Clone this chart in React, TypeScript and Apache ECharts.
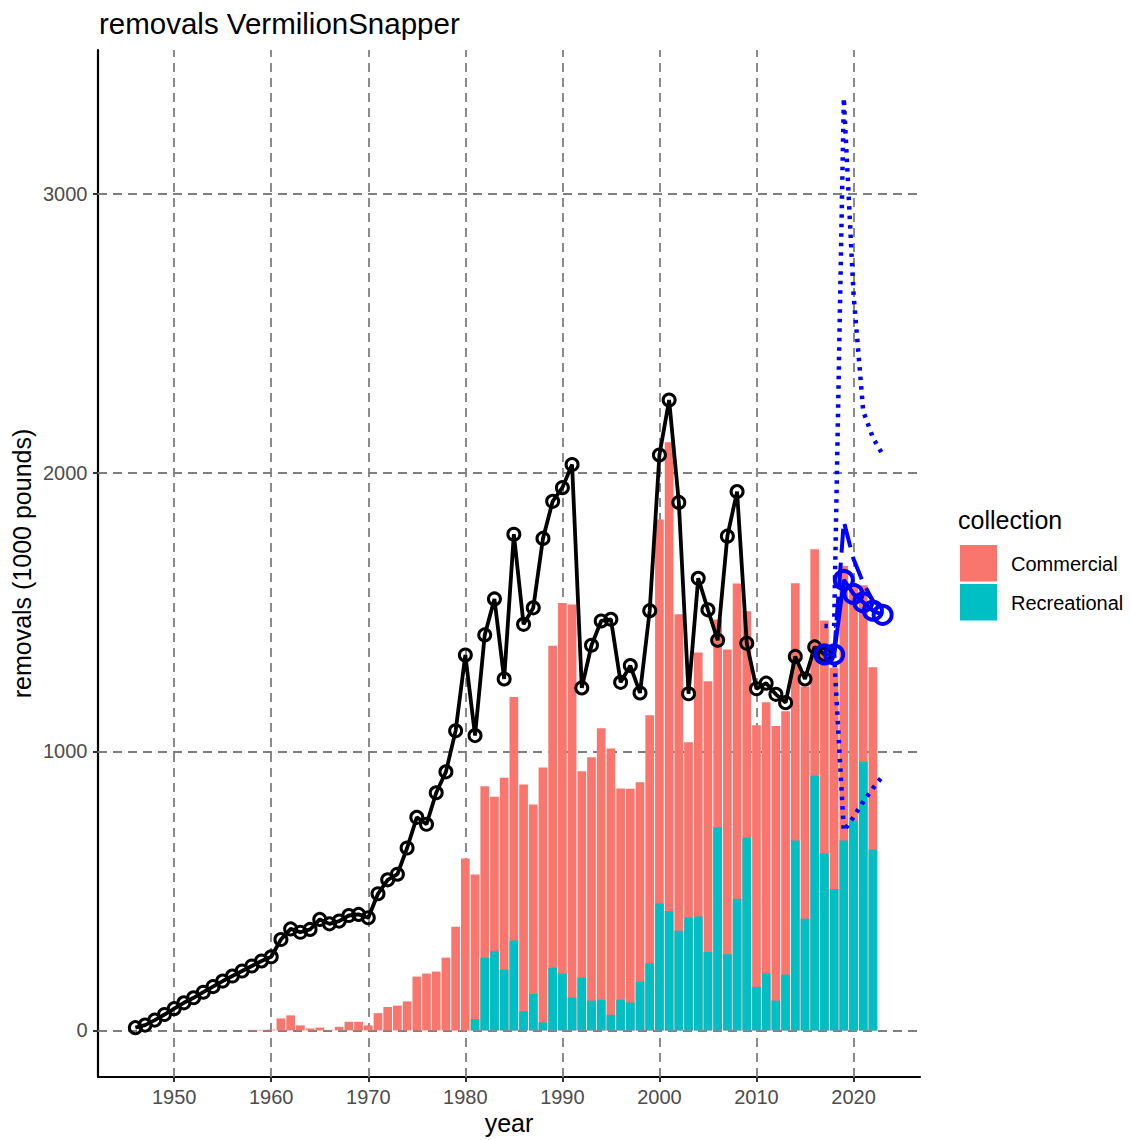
import { useEffect, useRef } from 'react';
import * as echarts from 'echarts';

// ---- data ----
const barYears = [
  1958, 1959, 1960, 1961, 1962, 1963, 1964, 1965, 1966, 1967, 1968, 1969, 1970,
  1971, 1972, 1973, 1974, 1975, 1976, 1977, 1978, 1979, 1980, 1981, 1982, 1983,
  1984, 1985, 1986, 1987, 1988, 1989, 1990, 1991, 1992, 1993, 1994, 1995, 1996,
  1997, 1998, 1999, 2000, 2001, 2002, 2003, 2004, 2005, 2006, 2007, 2008, 2009,
  2010, 2011, 2012, 2013, 2014, 2015, 2016, 2017, 2018, 2019, 2020, 2021, 2022,
];
const recreational = [
  0, 0, 0, 0, 0, 0, 0, 0, 0, 0, 0, 0, 0,
  0, 0, 0, 0, 0, 0, 0, 0, 0, 0, 41, 261, 285,
  218, 322, 68, 131, 29, 225, 204, 118, 189, 107, 110, 56, 110,
  100, 176, 241, 455, 428, 357, 405, 408, 281, 728, 273, 472, 691,
  156, 204, 107, 200, 681, 400, 914, 635, 507, 681, 753, 962, 649,
];
const commercial = [
  2, 2, 3, 43, 54, 18, 7, 10, 2, 13, 31, 31, 18,
  62, 84, 89, 104, 193, 204, 211, 261, 372, 616, 518, 614, 553,
  688, 873, 814, 679, 914, 1154, 1328, 1409, 740, 872, 973, 955, 757,
  766, 714, 889, 1377, 1681, 1135, 628, 947, 971, 745, 1093, 1130, 812,
  938, 973, 984, 944, 922, 833, 811, 835, 793, 984, 842, 634, 653,
];

const removalYears = [
  1946, 1947, 1948, 1949, 1950, 1951, 1952, 1953, 1954, 1955, 1956, 1957, 1958,
  1959, 1960, 1961, 1962, 1963, 1964, 1965, 1966, 1967, 1968, 1969, 1970, 1971,
  1972, 1973, 1974, 1975, 1976, 1977, 1978, 1979, 1980, 1981, 1982, 1983, 1984,
  1985, 1986, 1987, 1988, 1989, 1990, 1991, 1992, 1993, 1994, 1995, 1996, 1997,
  1998, 1999, 2000, 2001, 2002, 2003, 2004, 2005, 2006, 2007, 2008, 2009, 2010,
  2011, 2012, 2013, 2014, 2015, 2016, 2017,
];
const removals = [
  10, 19, 37, 57, 78, 99, 117, 137, 157, 177, 195, 213, 231,
  249, 264, 326, 364, 352, 362, 398, 382, 392, 412, 416, 404, 490,
  540, 560, 654, 764, 739, 852, 927, 1074, 1346, 1057, 1418, 1547, 1260,
  1779, 1456, 1515, 1764, 1897, 1946, 2029, 1228, 1381, 1468, 1474, 1248, 1308,
  1210, 1505, 2063, 2260, 1893, 1207, 1621, 1508, 1399, 1772, 1932, 1388, 1225,
  1245, 1205, 1175, 1341, 1260, 1375, 1348,
];

const projYears = [2017, 2018, 2019, 2020, 2021, 2022, 2023];
const projMedian = [1348, 1348, 1615, 1565, 1535, 1505, 1490];
const projDashYears = [2018, 2019, 2020, 2021, 2022, 2023];
const projDash = [1348, 1825, 1690, 1605, 1540, 1515];
const projUpperYears = [2017, 2018, 2019, 2020, 2021, 2022, 2023];
const projUpper = [1450, 1450, 3343, 2640, 2220, 2125, 2065];
const projLowerYears = [2018, 2019, 2020, 2021, 2022, 2023];
const projLower = [1348, 715, 765, 820, 868, 912];

const xTicks = [1950, 1960, 1970, 1980, 1990, 2000, 2010, 2020];
const yTicks = [0, 1000, 2000, 3000];

const legendNames = ['Commercial', 'Recreational'];
const COL_COM = '#F8766D';
const COL_REC = '#00BFC4';
const FONT = 'Liberation Sans, Arial, Helvetica, sans-serif';

const zip = (xs: number[], ys: number[]) => xs.map((x, i) => [x, ys[i]]);
// stacked: the Commercial segment sits on top of the Recreational one
const stackedTop = barYears.map((y, i) => [y, recreational[i] + commercial[i]]);

export default function App() {
  const ref = useRef<HTMLDivElement>(null);

  useEffect(() => {
    if (!ref.current) return;
    const chart = echarts.init(ref.current, undefined, { renderer: 'svg' });

    const gridLineStyle = { color: '#7F7F7F', width: 1.8, type: [9, 6] as any };

    const option: any = {
      animation: false,
      backgroundColor: '#ffffff',
      textStyle: { fontFamily: FONT },
      grid: {
        left: 98,
        top: 50,
        width: 822,
        height: 1027,
        containLabel: false,
        outerBoundsMode: 'none',
      },
      xAxis: {
        type: 'value',
        min: 1942.15,
        max: 2026.85,
        axisLine: { show: true, onZero: false, lineStyle: { color: '#000', width: 2.2 } },
        axisTick: {
          show: true,
          length: 5,
          customValues: xTicks,
          lineStyle: { color: '#333', width: 2 },
        },
        axisLabel: {
          show: true,
          customValues: xTicks,
          formatter: (v: number) => String(v),
          color: '#4D4D4D',
          fontSize: 20,
          fontFamily: FONT,
          margin: 10,
        },
        splitLine: { show: false },
      },
      yAxis: {
        type: 'value',
        min: -167,
        max: 3515,
        axisLine: { show: true, onZero: false, lineStyle: { color: '#000', width: 2.2 } },
        axisTick: {
          show: true,
          length: 5,
          customValues: yTicks,
          lineStyle: { color: '#333', width: 2 },
        },
        axisLabel: {
          show: true,
          customValues: yTicks,
          formatter: (v: number) => String(v),
          color: '#4D4D4D',
          fontSize: 20,
          fontFamily: FONT,
          margin: 10.5,
        },
        splitLine: { show: false },
      },
      series: [
        {
          name: 'Commercial',
          type: 'bar',
          barWidth: 8.7,
          barGap: '-100%',
          z: 2,
          itemStyle: { color: COL_COM },
          data: stackedTop,
          markLine: {
            silent: true,
            z: 1,
            symbol: ['none', 'none'],
            label: { show: false },
            lineStyle: gridLineStyle,
            emphasis: { disabled: true },
            data: [
              ...xTicks.map((v) => ({ xAxis: v })),
              ...yTicks.map((v) => ({ yAxis: v })),
            ],
          },
        },
        {
          name: 'Recreational',
          type: 'bar',
          barWidth: 8.7,
          barGap: '-100%',
          z: 2,
          itemStyle: { color: COL_REC },
          data: zip(barYears, recreational),
        },
        {
          name: 'removals',
          type: 'line',
          z: 3,
          symbol: 'circle',
          symbolSize: 12,
          showSymbol: true,
          lineStyle: { color: '#000', width: 3.8 },
          itemStyle: { color: 'transparent', borderColor: '#000', borderWidth: 3 },
          data: zip(removalYears, removals),
        },
        {
          name: 'upper',
          type: 'line',
          z: 4,
          symbol: 'none',
          lineStyle: { color: '#0000FF', width: 4.5, type: [3.5, 6], cap: 'butt' },
          data: zip(projUpperYears, projUpper),
        },
        {
          name: 'lower',
          type: 'line',
          z: 4,
          symbol: 'none',
          lineStyle: { color: '#0000FF', width: 4.5, type: [3.5, 6], cap: 'butt' },
          data: zip(projLowerYears, projLower),
        },
        {
          name: 'dash',
          type: 'line',
          z: 4,
          symbol: 'none',
          lineStyle: { color: '#0000FF', width: 4, type: [24, 10] },
          data: zip(projDashYears, projDash),
        },
        {
          name: 'projection',
          type: 'line',
          z: 5,
          symbol: 'circle',
          symbolSize: 18,
          lineStyle: { color: '#0000FF', width: 4 },
          itemStyle: { color: 'transparent', borderColor: '#0000FF', borderWidth: 4 },
          data: zip(projYears, projMedian),
        },
      ],
      graphic: [
        {
          type: 'text',
          left: 99,
          top: 8,
          style: { text: 'removals VermilionSnapper', fontSize: 29.5, fontFamily: FONT, fill: '#000' },
        },
        {
          type: 'text',
          x: 509,
          y: 1123,
          style: {
            text: 'year', fontSize: 25, fontFamily: FONT, fill: '#000',
            align: 'center', verticalAlign: 'middle',
          },
        },
        {
          type: 'text',
          x: 22,
          y: 563.5,
          rotation: Math.PI / 2,
          style: {
            text: 'removals (1000 pounds)', fontSize: 25, fontFamily: FONT, fill: '#000',
            align: 'center', verticalAlign: 'middle',
          },
        },
        {
          type: 'text',
          x: 958,
          y: 519.5,
          style: {
            text: 'collection', fontSize: 25, fontFamily: FONT, fill: '#000',
            align: 'left', verticalAlign: 'middle',
          },
        },
        {
          type: 'rect',
          shape: { x: 960, y: 545, width: 37, height: 36.5 },
          style: { fill: COL_COM },
        },
        {
          type: 'rect',
          shape: { x: 960, y: 584, width: 37, height: 36.5 },
          style: { fill: COL_REC },
        },
        {
          type: 'text',
          x: 1011,
          y: 563.5,
          style: {
            text: legendNames[0], fontSize: 20, fontFamily: FONT, fill: '#000',
            align: 'left', verticalAlign: 'middle',
          },
        },
        {
          type: 'text',
          x: 1011,
          y: 602.5,
          style: {
            text: legendNames[1], fontSize: 20, fontFamily: FONT, fill: '#000',
            align: 'left', verticalAlign: 'middle',
          },
        },
      ],
    };

    chart.setOption(option);
    return () => {
      chart.dispose();
    };
  }, []);

  return (
    <div
      ref={ref}
      style={{ position: 'absolute', left: 0, top: 0, width: 1131, height: 1140, background: '#fff' }}
    />
  );
}
